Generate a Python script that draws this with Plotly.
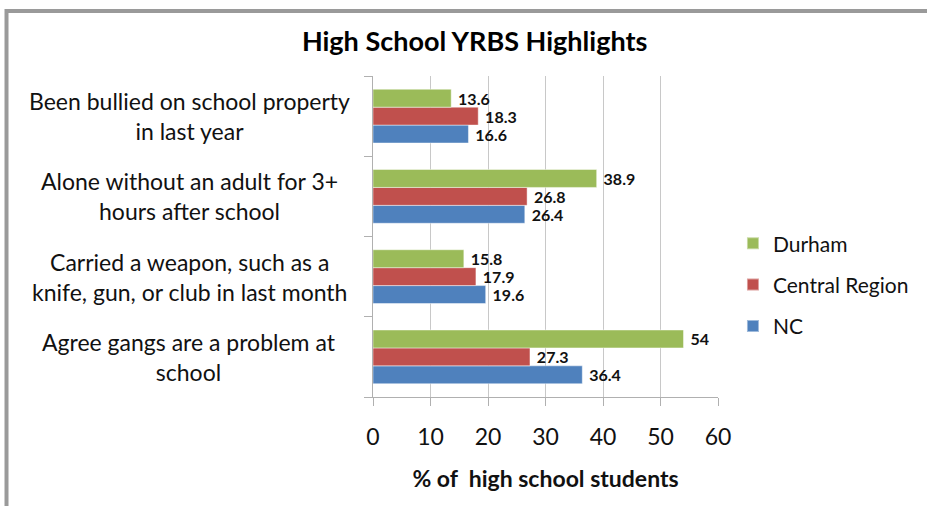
import plotly.graph_objects as go

categories = [
    "Agree gangs are a problem at<br>school",
    "Carried a weapon, such as a<br>knife, gun, or club in last month",
    "Alone without an adult for 3+<br>hours after school",
    "Been bullied on school property<br>in last year",
]
series_names = ["NC", "Central Region", "Durham"]
nc = [36.4, 19.6, 26.4, 16.6]
central = [27.3, 17.9, 26.8, 18.3]
durham = [54, 15.8, 38.9, 13.6]
colors = {"NC": "#4F81BD", "Central Region": "#C0504D", "Durham": "#9BBB59"}
legend_rank = {"Durham": 1, "Central Region": 2, "NC": 3}
x_ticks = [0, 10, 20, 30, 40, 50, 60]

FONT = "Lato"
fig = go.Figure()
for name, vals in zip(series_names, [nc, central, durham]):
    fig.add_trace(go.Bar(
        y=categories, x=vals, name=name, orientation="h", legendgroup=name,
        legendrank=legend_rank[name],
        marker=dict(color=colors[name], line=dict(color="rgba(255,255,255,0.45)", width=1)),
        text=["\u00a0" + f"{v:g}" for v in vals], textposition="outside",
        constraintext="none",
        textfont=dict(family=FONT, size=16, color="#111111", weight="bold"),
        cliponaxis=False,
    ))

for c in categories:
    fig.add_annotation(x=-0.533, xref="paper", y=c, yref="y", text=c, showarrow=False,
                       xanchor="center", yanchor="middle", align="center",
                       font=dict(family=FONT, size=23, color="#111111"))

# frame
fig.add_shape(type="rect", xref="paper", yref="paper", x0=-1.0623, x1=1.65, y0=-0.40, y1=1.2025,
              line=dict(color="#9a9a9a", width=4), layer="below")

fig.update_layout(
    width=927, height=506,
    margin=dict(l=373, r=209, t=76, b=109),
    paper_bgcolor="white", plot_bgcolor="white",
    barmode="group", bargap=0.33, bargroupgap=0,
    title=dict(text="<b>High School YRBS Highlights</b>", x=0.512, xanchor="center",
               y=0.917, yanchor="middle", font=dict(family=FONT, size=27, color="#000000")),
    legend=dict(x=1.568, y=0.35, xanchor="right", yanchor="middle", traceorder="grouped",
                font=dict(family=FONT, size=21, color="#111111"), itemsizing="constant",
                tracegroupgap=11, itemwidth=30),
    xaxis=dict(range=[0, 60], tickvals=x_ticks, showgrid=True, gridcolor="#c8c8c8", gridwidth=1,
               ticks="outside", ticklen=8, tickcolor="#b0b0b0", zeroline=False,
               showline=True, linecolor="#b0b0b0", linewidth=1, ticklabelstandoff=11,
               tickfont=dict(family=FONT, size=23, color="#111111"),
               title=dict(text="<b>% of  high school students</b>", standoff=22,
                          font=dict(family=FONT, size=23, color="#111111"))),
    yaxis=dict(showticklabels=False, tickson="boundaries", ticks="outside", ticklen=8,
               tickcolor="#b0b0b0", showline=True, linecolor="#b0b0b0", linewidth=1,
               showgrid=False),
    showlegend=True,
)
fig.write_html("out.html", config={"displayModeBar": False},
               post_script="document.body.style.margin='0';")
